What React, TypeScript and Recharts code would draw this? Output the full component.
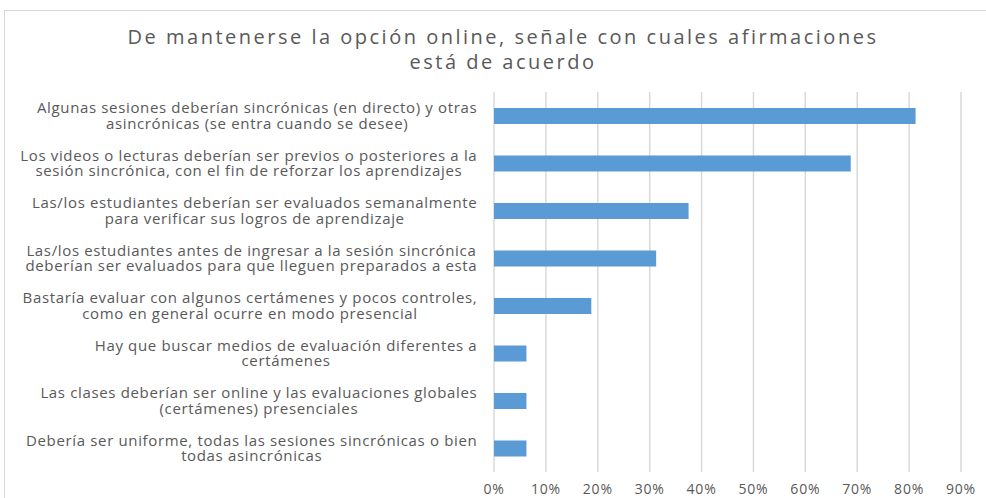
import React from 'react';
import { BarChart, Bar, XAxis, YAxis, CartesianGrid } from 'recharts';

const title = ['De mantenerse la opción online, señale con cuales afirmaciones', 'está de acuerdo'];

const categories = [
  'Algunas sesiones deberían sincrónicas (en directo) y otras\nasincrónicas (se entra cuando se desee)',
  'Los videos o lecturas deberían ser previos o posteriores a la\nsesión sincrónica, con el fin de reforzar los aprendizajes',
  'Las/los estudiantes deberían ser evaluados semanalmente\npara verificar sus logros de aprendizaje',
  'Las/los estudiantes antes de ingresar a la sesión sincrónica\ndeberían ser evaluados para que lleguen preparados a esta',
  'Bastaría evaluar con algunos certámenes y pocos controles,\ncomo en general ocurre en modo presencial',
  'Hay que buscar medios de evaluación diferentes a\ncertámenes',
  'Las clases deberían ser online y las evaluaciones globales\n(certámenes) presenciales',
  'Debería ser uniforme, todas las sesiones sincrónicas o bien\ntodas asincrónicas',
];

const values = [0.8125, 0.6875, 0.375, 0.3125, 0.1875, 0.0625, 0.0625, 0.0625];

const xTicks = [0, 0.1, 0.2, 0.3, 0.4, 0.5, 0.6, 0.7, 0.8, 0.9];

const data = categories.map((name, i) => ({ name, value: values[i] }));

const FONT = '"Open Sans", "Liberation Sans", sans-serif';
const LABEL_SIZE = 15;
const LABEL_SPACING = 0.65;
const GRAY = '#595959';

let ctx: CanvasRenderingContext2D | null = null;
const measure = (s: string) => {
  if (!ctx) ctx = document.createElement('canvas').getContext('2d');
  if (!ctx) return s.length * 7.6;
  ctx.font = `${LABEL_SIZE}px ${FONT}`;
  // spacing added by hand so it works whether canvas supports letterSpacing or not
  return ctx.measureText(s).width + LABEL_SPACING * (s.length - 1);
};

const CategoryTick = ({ x, y, payload }: any) => {
  const lines: string[] = String(payload.value).split('\n');
  const maxW = Math.max(...lines.map(measure));
  const right = x - 9;
  const cx = right - maxW / 2;
  const lh = 15.5;
  const startY = y - ((lines.length - 1) * lh) / 2 + 5.4;
  return (
    <text x={cx} y={startY} textAnchor="middle" fill={GRAY} fontSize={LABEL_SIZE} fontFamily={FONT} letterSpacing={LABEL_SPACING}>
      {lines.map((l, i) => (
        <tspan key={i} x={cx} y={startY + i * lh}>{l}</tspan>
      ))}
    </text>
  );
};

export default function App() {
  return (
    <div style={{ position: 'absolute', left: 0, top: 0, width: 986, height: 498, background: '#fff', overflow: 'hidden' }}>
      <div style={{ position: 'absolute', left: 4, top: 10, width: 1000, height: 520, border: '1px solid #d9d9d9' }} />
      <div style={{ position: 'absolute', left: 0, top: 24, width: 1006, textAlign: 'center', fontFamily: FONT, fontSize: 20, color: GRAY, lineHeight: '25px', letterSpacing: 2.5 }}>
        {title.map((t, i) => (
          <div key={i}>{t}</div>
        ))}
      </div>
      <div style={{ position: 'absolute', left: 0, top: 0 }}>
        <BarChart
          width={986}
          height={498}
          data={data}
          layout="vertical"
          margin={{ top: 92, right: 25, left: 0, bottom: 0 }}
        >
          <CartesianGrid horizontal={false} stroke="#d9d9d9" strokeWidth={1.5} />
          <XAxis
            type="number"
            domain={[0, 0.9]}
            ticks={xTicks}
            tickFormatter={(v: number) => `${Math.round(v * 100)}%`}
            axisLine={false}
            tickLine={false}
            tick={{ fill: GRAY, fontSize: 14, fontFamily: FONT, letterSpacing: 0.8 }}
            tickMargin={6}
            height={26}
            interval={0}
          />
          <YAxis
            type="category"
            dataKey="name"
            width={494}
            axisLine={false}
            tickLine={false}
            tick={<CategoryTick />}
            interval={0}
          />
          <Bar dataKey="value" fill="#5b9bd5" barSize={16} isAnimationActive={false} />
        </BarChart>
      </div>
    </div>
  );
}
